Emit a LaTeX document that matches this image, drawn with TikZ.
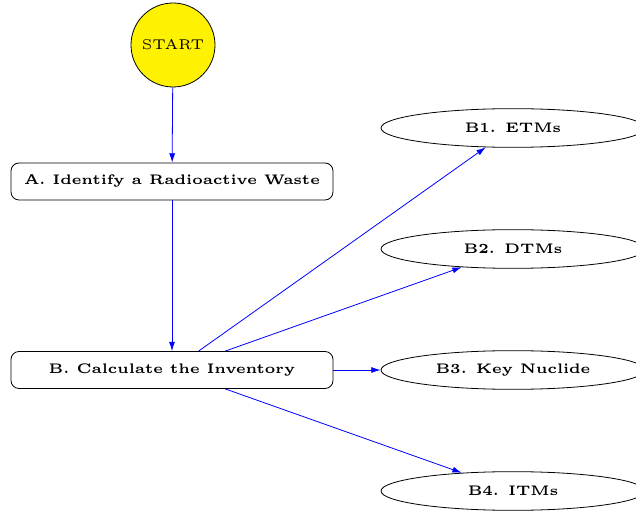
\documentclass[tikz,border=0pt]{standalone}
\usetikzlibrary{shapes.geometric,arrows.meta}
\font\boxfnt=cmbx5 at 10.4pt
\font\startfnt=cmr5 at 10.6pt
\begin{document}
\begin{tikzpicture}[x=0.75pt,y=-0.75pt,line width=0.6pt,
  startnode/.style={circle,draw=black,fill=yellow,minimum size=63pt,inner sep=0pt,font=\startfnt},
  procbox/.style={font=\boxfnt,rectangle,rounded corners=6pt,draw=black,minimum width=241.5pt,minimum height=27.75pt,inner sep=0pt},
  outell/.style={font=\boxfnt,ellipse,draw=black,minimum width=198pt,minimum height=29pt,inner sep=0pt},
  conn/.style={draw=blue,-{Latex[length=7pt,width=4.5pt]}}
]
\useasboundingbox (0,0) rectangle (636,513);
\node[startnode] (start) at (173,45) {START};
\node[procbox] (a) at (172,181.5) {A. Identify a Radioactive Waste};
\node[procbox] (b) at (172,370) {B. Calculate the Inventory};
\node[outell] (b1) at (513,128) {B1. ETMs};
\node[outell] (b2) at (513,249) {B2. DTMs};
\node[outell] (b3) at (513,370) {B3. Key Nuclide};
\node[outell] (b4) at (513,491) {B4. ITMs};
\draw[conn] (start) -- (a);
\draw[conn] (a) -- (b);
\draw[conn] (b) -- (b1);
\draw[conn] (b) -- (b2);
\draw[conn] (b) -- (b3);
\draw[conn] (b) -- (b4);
\end{tikzpicture}
\end{document}
